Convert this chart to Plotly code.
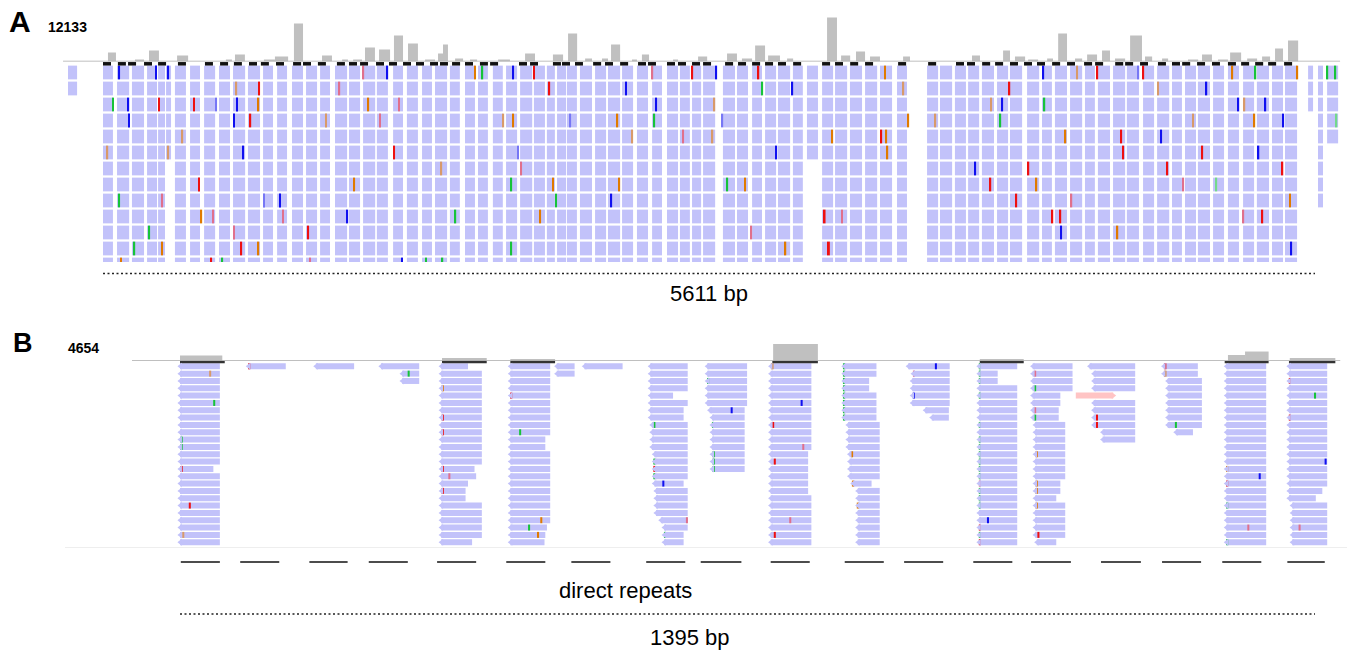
import plotly.graph_objects as go

W, H = 1347, 653
FONT = "Liberation Sans, Arial, sans-serif"
READ_COLOR = "#c2c2fa"
COV_COLOR = "#c0c0c0"
BASE_COLOR = {"A": "#17c33a", "C": "#1010f0", "G": "#e07a00", "T": "#ee1010",
              "a": "#74d98c", "c": "#7777f5", "g": "#d89a6a", "t": "#e0708c"}

# ---------------- Panel A data (positions in bp) ----------------
A_SPAN_BP = 5611
A_COV_MAX = 12133
A_ROWS = 13
a_col_start = [-162, 0, 65, 134, 204, 255, 292, 333, 403, 468,
               537, 602, 671, 741, 806, 875, 940, 1005, 1074, 1139,
               1204, 1268, 1343, 1407, 1477, 1537, 1606, 1676, 1736, 1805,
               1866, 1931, 1995, 2055, 2102, 2148, 2208, 2278, 2338, 2403,
               2472, 2542, 2611, 2671, 2727, 2778, 2870, 2935, 3005, 3065,
               3125, 3194, 3259, 3329, 3389, 3458, 3528, 3597, 3676, 3815,
               3875, 3944, 4005, 4069, 4139, 4199, 4278, 4347, 4407, 4477,
               4546, 4606, 4676, 4740, 4815, 4880, 4949, 5009, 5069, 5139,
               5208, 5278, 5342, 5412, 5472, 5579, 5625, 5667]
a_col_width = [42, 46, 56, 56, 46, 32, 23, 51, 46, 51,
               51, 56, 56, 46, 46, 51, 51, 46, 56, 51,
               56, 51, 46, 51, 46, 56, 46, 46, 46, 46,
               51, 56, 51, 37, 42, 46, 56, 51, 56, 51,
               51, 46, 51, 46, 42, 56, 56, 51, 46, 51,
               56, 46, 51, 51, 56, 56, 56, 56, 46, 51,
               56, 51, 51, 56, 51, 56, 56, 46, 56, 56,
               46, 56, 56, 56, 51, 56, 46, 51, 56, 51,
               51, 51, 56, 51, 56, 23, 23, 51]
a_col_short = {-162: 2, 292: 6, 3259: 6, 5579: 3, 5625: 9, 5667: 5}

a_cov_start = [23, 148, 213, 343, 569, 611, 745, 796, 884, 1014, 1107, 1158, 1213, 1278, 1347, 1412,
               1491, 1551, 1574, 1630, 1699, 1829, 1954, 2083, 2153, 2232, 2310, 2352, 2449, 2495,
               2639, 2755, 2889, 2958, 3019, 3079, 3167, 3352, 3417, 3486, 3551, 3704, 4023, 4167,
               4222, 4283, 4371, 4422, 4500, 4556, 4625, 4685, 4755, 4824, 4903, 5023, 5088, 5162,
               5218, 5297, 5366, 5426, 5486]
a_cov_end = [60, 190, 259, 394, 597, 657, 796, 857, 926, 1060, 1134, 1199, 1259, 1329, 1389, 1458,
             1537, 1574, 1597, 1667, 1732, 1884, 2000, 2130, 2195, 2264, 2338, 2394, 2472, 2528,
             2662, 2797, 2935, 3005, 3065, 3134, 3195, 3398, 3459, 3528, 3597, 3736, 4060, 4199,
             4269, 4329, 4398, 4463, 4533, 4602, 4662, 4732, 4810, 4857, 4931, 5070, 5134, 5208,
             5269, 5343, 5403, 5463, 5533]
a_cov_value = [2349, 522, 2871, 1566, 522, 1827, 522, 1305, 9918, 1566, 522, 522, 3654, 3132, 6786, 4698,
               522, 2088, 4437, 783, 522, 522, 2088, 1827, 7308, 783, 783, 4437, 522, 1827,
               522, 1305, 2088, 783, 4176, 1566, 783, 11484, 1566, 2610, 1305, 1305, 1566, 2871,
               1305, 522, 783, 7308, 783, 1827, 2871, 783, 6786, 1305, 783, 522, 1827, 522,
               2349, 783, 1305, 3393, 5481]

a_mark_start = [0, 69, 116, 190, 255, 347, 472, 542, 606, 676, 731, 801, 880, 926, 995, 1083,
                1139, 1190, 1264, 1324, 1389, 1449, 1514, 1560, 1616, 1676, 1745, 1792, 1926, 1977,
                2083, 2125, 2185, 2269, 2324, 2394, 2477, 2523, 2611, 2662, 2727, 2778, 2880, 2940,
                3005, 3065, 3125, 3195, 3329, 3389, 3459, 3528, 3681, 3820, 3949, 4000, 4070, 4130,
                4199, 4264, 4324, 4394, 4463, 4542, 4593, 4686, 4732, 4801, 4884, 4949, 4996, 5065,
                5134, 5208, 5269, 5334, 5394, 5468]
A_MARK_LEN = 37

a_mm = {
    0: [(74, "C"), (245, "C"), (301, "C"), (1204, "t"), (1315, "C"), (1722, "G"), (1755, "A"), (1898, "C"),
        (1995, "T"), (2542, "t"), (2727, "T"), (2838, "C"), (3033, "T"), (3620, "G"), (4352, "C"), (4509, "g"),
        (4602, "T"), (4792, "c"), (4815, "T"), (5227, "G"), (5334, "A"), (5528, "G"), (5667, "A"), (5704, "A")],
    1: [(616, "g"), (722, "T"), (1093, "t"), (2065, "T"), (2421, "C"), (3051, "A"), (3190, "C"), (3704, "g"),
        (4195, "T"), (4884, "g"), (5107, "C")],
    2: [(46, "A"), (116, "C"), (259, "T"), (421, "T"), (523, "c"), (620, "C"), (718, "G"), (1227, "G"),
        (1370, "t"), (2560, "C"), (2829, "g"), (4111, "g"), (4162, "C"), (4357, "A"), (5255, "C"), (5283, "g"),
        (5380, "C")],
    3: [(120, "C"), (606, "C"), (681, "T"), (1032, "g"), (1282, "t"), (1852, "g"), (1898, "G"), (2162, "c"),
        (2380, "G"), (2551, "A"), (2866, "c"), (3727, "G"), (3852, "g"), (4153, "A"), (5046, "g"), (5329, "G"),
        (5463, "C"), (5709, "a")],
    4: [(366, "g"), (2449, "g"), (2685, "t"), (2820, "g"), (3375, "G"), (3602, "T"), (3625, "G"), (4454, "G"),
        (4713, "T"), (4898, "C")],
    5: [(19, "g"), (301, "g"), (648, "C"), (1347, "T"), (1921, "c"), (3116, "C"), (3630, "G"), (4722, "T"),
        (5088, "T"), (5348, "C")],
    6: [(1565, "g"), (1935, "t"), (4037, "C"), (4283, "T"), (4926, "T"), (5459, "T")],
    7: [(444, "T"), (1162, "G"), (1889, "A"), (2083, "G"), (2389, "G"), (2889, "A"), (2972, "G"), (4107, "T"),
        (4320, "G"), (5000, "t"), (5153, "a")],
    8: [(74, "A"), (273, "t"), (745, "c"), (819, "C"), (2097, "A"), (2352, "C"), (4227, "T"), (4482, "t"),
        (5495, "G")],
    9: [(454, "G"), (509, "t"), (833, "t"), (1130, "C"), (1630, "A"), (2023, "G"), (3340, "T"), (3421, "t"),
        (4394, "T"), (4431, "T"), (5278, "t"), (5366, "T")],
    10: [(213, "A"), (606, "t"), (949, "T"), (3000, "t"), (4435, "C"), (4695, "G")],
    11: [(144, "A"), (273, "G"), (639, "T"), (718, "G"), (1889, "A"), (3158, "G"), (3360, "T"), (5500, "C")],
    12: [(83, "G"), (500, "T"), (551, "A"), (958, "t"), (1384, "C"), (1495, "A"), (1570, "A")],
}

# ---------------- Panel B data (positions in bp) ----------------
B_SPAN_BP = 1395
B_COV_MAX = 4654
B_ROWS = 25
b_col_start = [0, 84, 167, 247, 321, 406, 463, 497, 578, 648, 726, 816, 895, 982, 1048, 1118, 1208, 1286, 1363]
b_col_end = [49, 130, 214, 294, 371, 455, 485, 544, 624, 697, 776, 860, 946, 1029, 1097, 1174, 1256, 1335, 1410]
b_col_rows = [25, 1, 1, 3, 25, 25, 2, 1, 25, 15, 25, 25, 8, 25, 25, 11, 10, 25, 25]
# (column, first row, last row, start, end)
b_override = [
    (0, 14, 14, 0, 41),
    (3, 1, 2, 273, 294),
    (4, 0, 0, 321, 354), (4, 14, 14, 321, 362), (4, 15, 15, 321, 364), (4, 16, 16, 321, 354),
    (4, 17, 18, 321, 351), (4, 24, 24, 321, 359),
    (5, 10, 11, 406, 449), (5, 22, 22, 406, 451), (5, 23, 23, 406, 449), (5, 24, 24, 406, 448),
    (8, 4, 4, 578, 606), (8, 6, 7, 578, 619), (8, 8, 11, 580, 624), (8, 12, 15, 583, 624),
    (8, 16, 16, 583, 619), (8, 17, 20, 585, 624), (8, 21, 21, 591, 624), (8, 22, 22, 595, 624),
    (8, 23, 24, 595, 619),
    (9, 6, 6, 651, 694), (9, 7, 14, 654, 694),
    (10, 12, 17, 726, 772),
    (11, 0, 1, 816, 856), (11, 2, 3, 816, 847), (11, 4, 7, 816, 856), (11, 8, 11, 821, 860),
    (11, 12, 15, 823, 860), (11, 16, 16, 827, 850), (11, 17, 24, 833, 860),
    (12, 1, 1, 901, 946), (12, 2, 5, 900, 946), (12, 6, 6, 916, 945), (12, 7, 7, 924, 945),
    (13, 1, 2, 982, 1005),
    (14, 4, 5, 1048, 1082), (14, 6, 7, 1048, 1080), (14, 8, 15, 1051, 1088), (14, 16, 17, 1051, 1082),
    (14, 18, 18, 1051, 1077), (14, 19, 23, 1051, 1088), (14, 24, 24, 1053, 1077),
    (15, 1, 3, 1123, 1174), (15, 5, 8, 1123, 1174), (15, 9, 10, 1134, 1174),
    (16, 0, 1, 1209, 1251), (16, 2, 8, 1214, 1256), (16, 9, 9, 1224, 1245),
    (18, 17, 17, 1363, 1404), (18, 18, 18, 1363, 1396), (18, 19, 24, 1367, 1410),
]
b_skip = [(15, 4)]
b_pink_read = (4, 1101, 1147)  # row, start, end

b_cov_start = [0, 322, 406, 729, 983, 1288, 1309, 1364]
b_cov_end = [52, 377, 461, 784, 1037, 1309, 1338, 1420]
b_cov_value = [1100, 606, 404, 3434, 404, 1212, 1919, 606]
b_bar_start = [0, 322, 406, 728, 983, 1284, 1363]
b_bar_end = [55, 377, 461, 784, 1037, 1338, 1420]

b_mm = [
    (37, 1, "g"), (42, 5, "A"), (2, 10, "A"), (2, 11, "A"), (2, 14, "T"), (12, 19, "T"), (4, 23, "g"),
    (85, 0, "T"), (281, 1, "A"),
    (323, 3, "G"), (323, 7, "T"), (323, 9, "T"), (323, 14, "T"), (331, 15, "t"), (323, 17, "T"),
    (407, 4, "T"), (418, 9, "A"), (444, 21, "G"), (429, 22, "A"), (440, 23, "G"),
    (583, 8, "A"), (583, 13, "A"), (583, 14, "T"), (583, 15, "A"), (594, 16, "C"), (623, 21, "t"), (596, 23, "A"),
    (649, 2, "A"), (678, 6, "C"), (655, 8, "A"), (656, 12, "A"), (656, 13, "A"), (656, 14, "A"),
    (728, 0, "G"), (764, 5, "C"), (729, 8, "T"), (766, 11, "t"), (731, 13, "T"), (750, 21, "t"), (731, 23, "T"),
    (816, 0, "A"), (816, 1, "A"), (816, 2, "A"), (816, 3, "A"), (816, 4, "A"), (816, 5, "A"), (816, 6, "A"),
    (816, 7, "A"), (826, 12, "G"), (827, 16, "G"), (833, 19, "G"),
    (929, 0, "C"), (902, 1, "t"), (902, 4, "C"),
    (983, 0, "A"), (983, 1, "A"), (983, 2, "A"), (983, 4, "A"), (983, 8, "A"), (983, 10, "A"), (983, 11, "A"),
    (983, 12, "A"), (983, 13, "A"), (983, 14, "A"), (983, 15, "A"), (983, 16, "t"), (983, 17, "A"),
    (983, 18, "A"), (983, 19, "A"), (993, 21, "C"), (983, 22, "T"), (983, 23, "A"), (983, 24, "T"),
    (1051, 1, "t"), (1051, 3, "A"), (1051, 6, "t"), (1051, 7, "A"), (1053, 12, "G"), (1053, 16, "G"),
    (1053, 17, "G"), (1053, 19, "G"), (1055, 23, "T"),
    (1127, 7, "T"), (1127, 8, "T"),
    (1211, 0, "T"), (1211, 1, "G"), (1224, 8, "A"),
    (1287, 14, "G"), (1327, 15, "C"), (1287, 16, "T"), (1287, 19, "A"), (1313, 22, "t"), (1287, 24, "A"),
    (1364, 2, "T"), (1395, 4, "A"), (1364, 7, "T"), (1408, 13, "C"), (1376, 22, "t"),
]
b_repeat_start = [1, 74, 159, 232, 316, 401, 481, 573, 640, 726, 817, 890, 975, 1046, 1132, 1207, 1281, 1361]
b_repeat_end = [49, 122, 206, 280, 364, 449, 529, 621, 690, 774, 865, 938, 1023, 1095, 1181, 1255, 1329, 1407]

# ---------------- pixel layout ----------------
def fy(py):
    return 1 - py / H

KA = A_SPAN_BP / 1212.0       # bp per pixel, panel A (0 bp at x=103 px)
KB = B_SPAN_BP / 1135.0       # bp per pixel, panel B (0 bp at x=180 px)
A_X = [-103 * KA, (W - 103) * KA]
B_X = [-180 * KB, (W - 180) * KB]

A_PITCH, A_ROW0 = 16.0, 72.5
B_PITCH, B_ROW0 = 7.33, 366.3
A_Y2 = [(262 - A_ROW0) / A_PITCH, (62 - A_ROW0) / A_PITCH]
B_Y4 = [(548 - B_ROW0) / B_PITCH, (361 - B_ROW0) / B_PITCH]

fig = go.Figure()

def hbars(starts, lengths, rows, width, colors, xa, ya):
    fig.add_trace(go.Bar(orientation="h", base=starts, x=lengths, y=rows, width=width,
                         marker=dict(color=colors, line=dict(width=0)),
                         xaxis=xa, yaxis=ya, hoverinfo="skip"))

# ---- Panel A coverage
fig.add_trace(go.Bar(x=[(s + e) / 2 for s, e in zip(a_cov_start, a_cov_end)], y=a_cov_value,
                     width=[e - s for s, e in zip(a_cov_start, a_cov_end)],
                     marker=dict(color=COV_COLOR, line=dict(width=0)), xaxis="x", yaxis="y",
                     hoverinfo="skip"))

# ---- Panel A reads
rs, ls, ys = [], [], []
for s, w in zip(a_col_start, a_col_width):
    for r in range(a_col_short.get(s, A_ROWS)):
        rs.append(s); ls.append(w); ys.append(r)
hbars(rs, ls, ys, 0.86, READ_COLOR, "x2", "y2")

# mismatches A
ms, ml, my, mc = [], [], [], []
for r, lst in a_mm.items():
    for p, b in lst:
        ms.append(p - 4); ml.append(9); my.append(r); mc.append(BASE_COLOR[b])
hbars(ms, ml, my, 0.86, mc, "x2", "y2")

# black marks on top of columns
mark_row = (63.8 - A_ROW0) / A_PITCH
hbars(a_mark_start, [A_MARK_LEN] * len(a_mark_start), [mark_row] * len(a_mark_start),
      3.5 / A_PITCH, "#111111", "x2", "y2")

# ---- Panel B coverage
fig.add_trace(go.Bar(x=[(s + e) / 2 for s, e in zip(b_cov_start, b_cov_end)], y=b_cov_value,
                     width=[e - s for s, e in zip(b_cov_start, b_cov_end)],
                     marker=dict(color=COV_COLOR, line=dict(width=0)), xaxis="x3", yaxis="y3",
                     hoverinfo="skip"))

# ---- Panel B reads
cells = {}
for c, (s, e, n) in enumerate(zip(b_col_start, b_col_end, b_col_rows)):
    for r in range(n):
        cells[(c, r)] = (s, e)
for c, r0, r1, s, e in b_override:
    for r in range(r0, r1 + 1):
        cells[(c, r)] = (s, e)
for key in b_skip:
    cells.pop(key, None)
bs = [v[0] for v in cells.values()]
bl = [v[1] - v[0] for v in cells.values()]
by = [k[1] for k in cells.keys()]
hbars(bs, bl, by, 6.0 / B_PITCH, READ_COLOR, "x4", "y4")
fig.add_trace(go.Scatter(x=[s + 0.5 for s in bs], y=by, mode="markers",
                         marker=dict(symbol="triangle-left", size=6, color=READ_COLOR, line=dict(width=0)),
                         xaxis="x4", yaxis="y4", hoverinfo="skip"))
pr, ps, pe = b_pink_read
hbars([ps], [pe - ps], [pr], 6.0 / B_PITCH, "#ffc4c4", "x4", "y4")
fig.add_trace(go.Scatter(x=[pe], y=[pr], mode="markers",
                         marker=dict(symbol="triangle-right", size=6, color="#ffc4c4"),
                         xaxis="x4", yaxis="y4", hoverinfo="skip"))

# mismatches B
hbars([p - 1.2 for p, r, b in b_mm], [2.5] * len(b_mm), [r for p, r, b in b_mm], 6.0 / B_PITCH,
      [BASE_COLOR[b] for p, r, b in b_mm], "x4", "y4")

# dark bars under coverage
bar_row = (362.2 - B_ROW0) / B_PITCH
hbars(b_bar_start, [e - s for s, e in zip(b_bar_start, b_bar_end)], [bar_row] * len(b_bar_start),
      2.2 / B_PITCH, "#333333", "x4", "y4")

# ---------------- shapes ----------------
shapes = [
    dict(type="line", xref="x", yref="y", x0=-185, x1=5727, y0=0, y1=0,
         line=dict(color="#aaaaaa", width=1.5)),
    dict(type="line", xref="x", yref="paper", x0=0, x1=A_SPAN_BP, y0=fy(273.5), y1=fy(273.5),
         line=dict(color="#222222", width=1.5, dash="2px,2.5px")),
    dict(type="line", xref="x3", yref="y3", x0=-59, x1=1426, y0=0, y1=0,
         line=dict(color="#aaaaaa", width=1.5)),
    dict(type="line", xref="paper", yref="paper", x0=65 / W, x1=1, y0=fy(547.5), y1=fy(547.5),
         line=dict(color="#eeeeee", width=1)),
    dict(type="line", xref="x4", yref="paper", x0=0, x1=B_SPAN_BP, y0=fy(614), y1=fy(614),
         line=dict(color="#222222", width=1.5, dash="2px,2.5px")),
]
for s, e in zip(b_repeat_start, b_repeat_end):
    shapes.append(dict(type="line", xref="x4", yref="paper", x0=s, x1=e, y0=fy(562), y1=fy(562),
                       line=dict(color="#111111", width=1.3)))

def label(text, px, py, size, bold=False, anchor="center"):
    return dict(text=f"<b>{text}</b>" if bold else text, x=px / W, y=fy(py), xref="paper", yref="paper",
                xanchor=anchor, yanchor="middle", showarrow=False,
                font=dict(family=FONT, size=size, color="#000000"))

annotations = [
    label("A", 7, 21, 30, True, "left"),
    label(str(A_COV_MAX), 46, 27, 14, True, "left"),
    label(f"{A_SPAN_BP} bp", 709, 293, 22),
    label("B", 11, 343, 27, True, "left"),
    label(str(B_COV_MAX), 66, 347.5, 14, True, "left"),
    label("direct repeats", 625, 590, 22),
    label(f"{B_SPAN_BP} bp", 690, 637, 22),
]

hid = dict(visible=False, fixedrange=True)
fig.update_layout(
    width=W, height=H, margin=dict(l=0, r=0, t=0, b=0),
    paper_bgcolor="white", plot_bgcolor="white", showlegend=False, barmode="overlay",
    xaxis=dict(domain=[0, 1], range=A_X, anchor="y", **hid),
    yaxis=dict(domain=[fy(61.5), fy(15)], range=[0, A_COV_MAX], anchor="x", **hid),
    xaxis2=dict(domain=[0, 1], range=A_X, anchor="y2", **hid),
    yaxis2=dict(domain=[fy(262), fy(62)], range=A_Y2, anchor="x2", **hid),
    xaxis3=dict(domain=[0, 1], range=B_X, anchor="y3", **hid),
    yaxis3=dict(domain=[fy(361), fy(338)], range=[0, B_COV_MAX], anchor="x3", **hid),
    xaxis4=dict(domain=[0, 1], range=B_X, anchor="y4", **hid),
    yaxis4=dict(domain=[fy(548), fy(361)], range=B_Y4, anchor="x4", **hid),
    shapes=shapes, annotations=annotations,
)

fig.write_html("out.html", config={"displayModeBar": False},
               post_script="document.body.style.margin='0';document.body.style.overflow='hidden';")
